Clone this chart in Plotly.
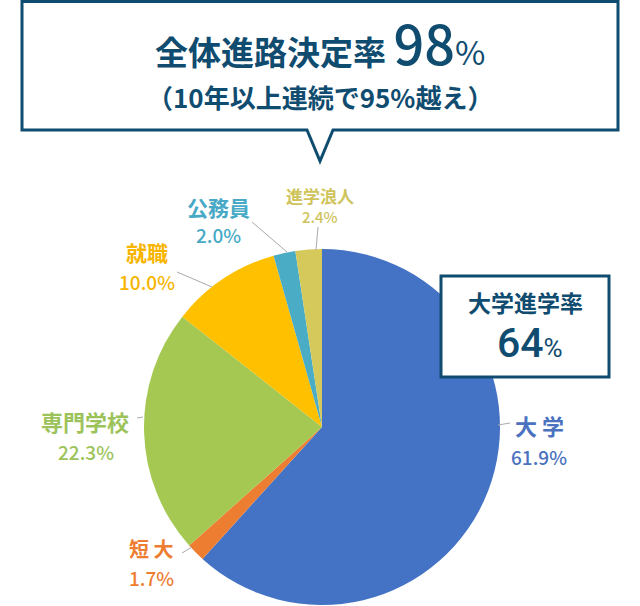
import plotly.graph_objects as go

# ---- data ----
categories = ["大学", "短大", "専門学校", "就職", "公務員", "進学浪人"]
shares = [61.9, 1.7, 22.3, 10.0, 2.0, 2.4]
share_labels = ["61.9%", "1.7%", "22.3%", "10.0%", "2.0%", "2.4%"]
display_names = ["大 学", "短 大", "専門学校", "就職", "公務員", "進学浪人"]
slice_colors = ["#4472C4", "#ED7D31", "#A5C853", "#FFC000", "#4BACC6", "#D5C95C"]
text_colors = ["#4A72C0", "#EE7D31", "#9CC35A", "#F7B500", "#47A9C6", "#CFC45C"]
headline = "全体進路決定率"
headline_value = "98"
subline = "（10年以上連続で95%越え）"
box_title = "大学進学率"
box_value = "64"

W, H = 640, 606
NAVY = "#0F4C70"
FONT = "Noto Sans CJK JP"


def px(x):
    return x / W


def py(y):
    return 1 - y / H


fig = go.Figure()
fig.add_trace(go.Pie(
    labels=categories,
    values=shares,
    sort=False,
    direction="clockwise",
    rotation=0,
    marker=dict(colors=slice_colors, line=dict(width=0)),
    textinfo="none",
    hoverinfo="label+percent",
    showlegend=False,
    domain=dict(x=[px(144), px(500)], y=[py(605), py(249)]),
))

shapes = []
annotations = []

# speech-bubble box at top
bubble = [(22, 1.5), (618, 1.5), (618, 130), (333, 130), (320, 161), (307, 130), (22, 130)]
path = "M " + " L ".join(f"{px(x):.5f},{py(y):.5f}" for x, y in bubble) + " Z"
shapes.append(dict(type="path", xref="paper", yref="paper", path=path,
                   fillcolor="white", line=dict(color=NAVY, width=3), layer="above"))

# 大学進学率 box
shapes.append(dict(type="rect", xref="paper", yref="paper",
                   x0=px(441), x1=px(609), y0=py(377), y1=py(276),
                   fillcolor="white", line=dict(color=NAVY, width=3), layer="above"))

annotations.append(dict(
    x=px(320), y=py(58), xref="paper", yref="paper", showarrow=False,
    xanchor="center", yanchor="middle",
    text=(f"<b>{headline}</b> <span style='font-size:54px;font-weight:500'>{headline_value}</span>"
          f"<span style='font-size:33px;font-weight:400'>%</span><br>"
          f"<span style='font-size:26px'><b>{subline}</b></span>"),
    font=dict(family=FONT, size=33, color=NAVY, weight=700),
))
annotations.append(dict(
    x=px(525), y=py(302), xref="paper", yref="paper", showarrow=False,
    xanchor="center", yanchor="middle",
    text=box_title,
    font=dict(family=FONT, size=23, color=NAVY, weight=700),
))
annotations.append(dict(
    x=px(530), y=py(343), xref="paper", yref="paper", showarrow=False,
    xanchor="center", yanchor="middle",
    text=f"{box_value}<span style='font-size:26px;font-weight:400'>%</span>",
    font=dict(family="Roboto", size=41, color=NAVY, weight=500),
))

# outside labels: (name center, pct center, name size, pct size, leader start, leader end)
label_layout = [
    ((539, 425), (539, 456), 22, 19, (498, 425), (510, 423)),
    ((151, 548), (151, 577), 20, 19, (182, 553), (192, 547)),
    ((85, 421), (86, 451), 22, 19, (137, 418), (143, 417)),
    ((147, 252), (147, 281), 21, 19, (177, 272), (212, 287)),
    ((218, 207), (218, 234), 21, 19, (252, 222), (287, 252)),
    ((320, 196), (320, 217), 17, 15, (318, 227), (316, 250)),
]
for name, pct, tc, lay in zip(display_names, share_labels, text_colors, label_layout):
    (nx, ny), (qx, qy), ns, qs, (lx0, ly0), (lx1, ly1) = lay
    annotations.append(dict(x=px(nx), y=py(ny), xref="paper", yref="paper", showarrow=False,
                            xanchor="center", yanchor="middle", text=name,
                            font=dict(family=FONT, size=ns, color=tc, weight=700)))
    annotations.append(dict(x=px(qx), y=py(qy), xref="paper", yref="paper", showarrow=False,
                            xanchor="center", yanchor="middle", text=pct,
                            font=dict(family=FONT, size=qs, color=tc, weight=500)))
    shapes.append(dict(type="line", xref="paper", yref="paper",
                       x0=px(lx0), y0=py(ly0), x1=px(lx1), y1=py(ly1),
                       line=dict(color="#AAAAAA", width=1)))

fig.update_layout(
    width=W, height=H, autosize=False,
    margin=dict(l=0, r=0, t=0, b=0),
    paper_bgcolor="white", plot_bgcolor="white",
    shapes=shapes, annotations=annotations,
)

fig.write_html("out.html")
